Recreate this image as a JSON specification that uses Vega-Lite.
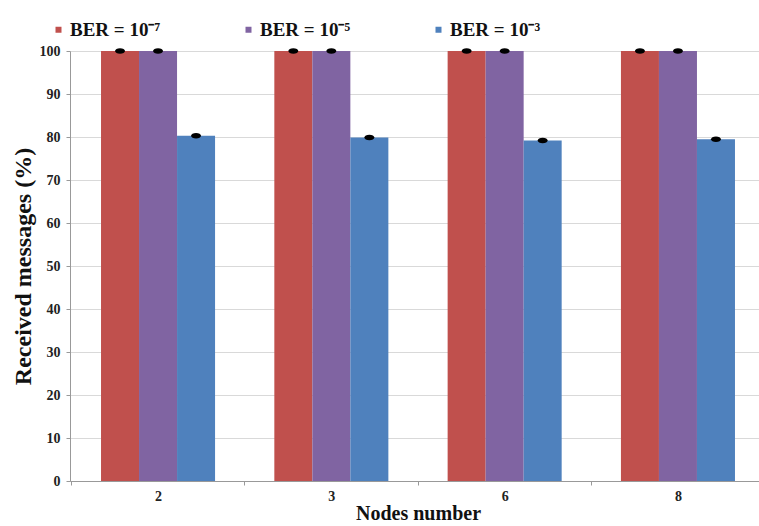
{
  "$schema": "https://vega.github.io/schema/vega-lite/v6.json",
  "autosize": "none",
  "width": 696,
  "height": 430,
  "padding": {"left": 70, "top": 51, "right": 0, "bottom": 45},
  "background": "white",
  "data": {
    "values": [
      {"nodes": "2", "ber": "BER = 10⁻⁷", "value": 100},
      {"nodes": "2", "ber": "BER = 10⁻⁵", "value": 100},
      {"nodes": "2", "ber": "BER = 10⁻³", "value": 80.3},
      {"nodes": "3", "ber": "BER = 10⁻⁷", "value": 100},
      {"nodes": "3", "ber": "BER = 10⁻⁵", "value": 100},
      {"nodes": "3", "ber": "BER = 10⁻³", "value": 79.9},
      {"nodes": "6", "ber": "BER = 10⁻⁷", "value": 100},
      {"nodes": "6", "ber": "BER = 10⁻⁵", "value": 100},
      {"nodes": "6", "ber": "BER = 10⁻³", "value": 79.2},
      {"nodes": "8", "ber": "BER = 10⁻⁷", "value": 100},
      {"nodes": "8", "ber": "BER = 10⁻⁵", "value": 100},
      {"nodes": "8", "ber": "BER = 10⁻³", "value": 79.5}
    ]
  },
  "encoding": {
    "x": {
      "field": "nodes",
      "type": "nominal",
      "sort": ["2", "3", "6", "8"],
      "scale": {"paddingInner": 0.342, "paddingOuter": 0.179},
      "axis": {
        "title": "Nodes number",
        "titleFont": "Liberation Serif",
        "titleFontSize": 20,
        "titleFontWeight": "bold",
        "titleColor": "#111",
        "titlePadding": 0,
        "labelAngle": 0,
        "labelFont": "Liberation Serif",
        "labelFontSize": 14,
        "labelFontWeight": "bold",
        "labelColor": "#222",
        "labelPadding": 4,
        "tickOffset": -87,
        "labelOffset": 87,
        "tickSize": 4,
        "tickColor": "#999",
        "domainColor": "#999",
        "grid": false
      }
    },
    "xOffset": {
      "field": "ber",
      "type": "nominal",
      "sort": ["BER = 10⁻⁷", "BER = 10⁻⁵", "BER = 10⁻³"]
    },
    "y": {
      "field": "value",
      "type": "quantitative",
      "scale": {"domain": [0, 100]},
      "axis": {
        "title": "Received messages (%)",
        "titleFont": "Liberation Serif",
        "titleFontSize": 24,
        "titleFontWeight": "bold",
        "titleColor": "#111",
        "titlePadding": 4,
        "values": [0, 10, 20, 30, 40, 50, 60, 70, 80, 90, 100],
        "labelOverlap": false,
        "labelFont": "Liberation Serif",
        "labelFontSize": 14,
        "labelFontWeight": "bold",
        "labelColor": "#222",
        "labelPadding": 6,
        "tickSize": 4,
        "tickColor": "#999",
        "domainColor": "#999",
        "gridColor": "#d9d9d9"
      }
    }
  },
  "layer": [
    {
      "mark": {"type": "bar"},
      "encoding": {
        "color": {
          "field": "ber",
          "type": "nominal",
          "scale": {
            "domain": ["BER = 10⁻⁷", "BER = 10⁻⁵", "BER = 10⁻³"],
            "range": ["#C0504D", "#8064A2", "#4F81BD"]
          },
          "legend": {
            "title": null,
            "orient": "none",
            "legendX": -21,
            "legendY": -31,
            "direction": "horizontal",
            "columns": 3,
            "columnPadding": 78,
            "symbolType": "square",
            "symbolSize": 36,
            "symbolOffset": 0,
            "labelOffset": 2,
            "labelFont": "Liberation Serif",
            "labelFontSize": 19,
            "labelFontWeight": "bold",
            "labelColor": "#111"
          }
        }
      }
    },
    {
      "mark": {
        "type": "point",
        "filled": true,
        "color": "black",
        "opacity": 1,
        "size": 100,
        "shape": "M-1,0 A1,0.55 0 1,0 1,0 A1,0.55 0 1,0 -1,0 Z"
      }
    }
  ],
  "config": {"view": {"stroke": null}}
}
